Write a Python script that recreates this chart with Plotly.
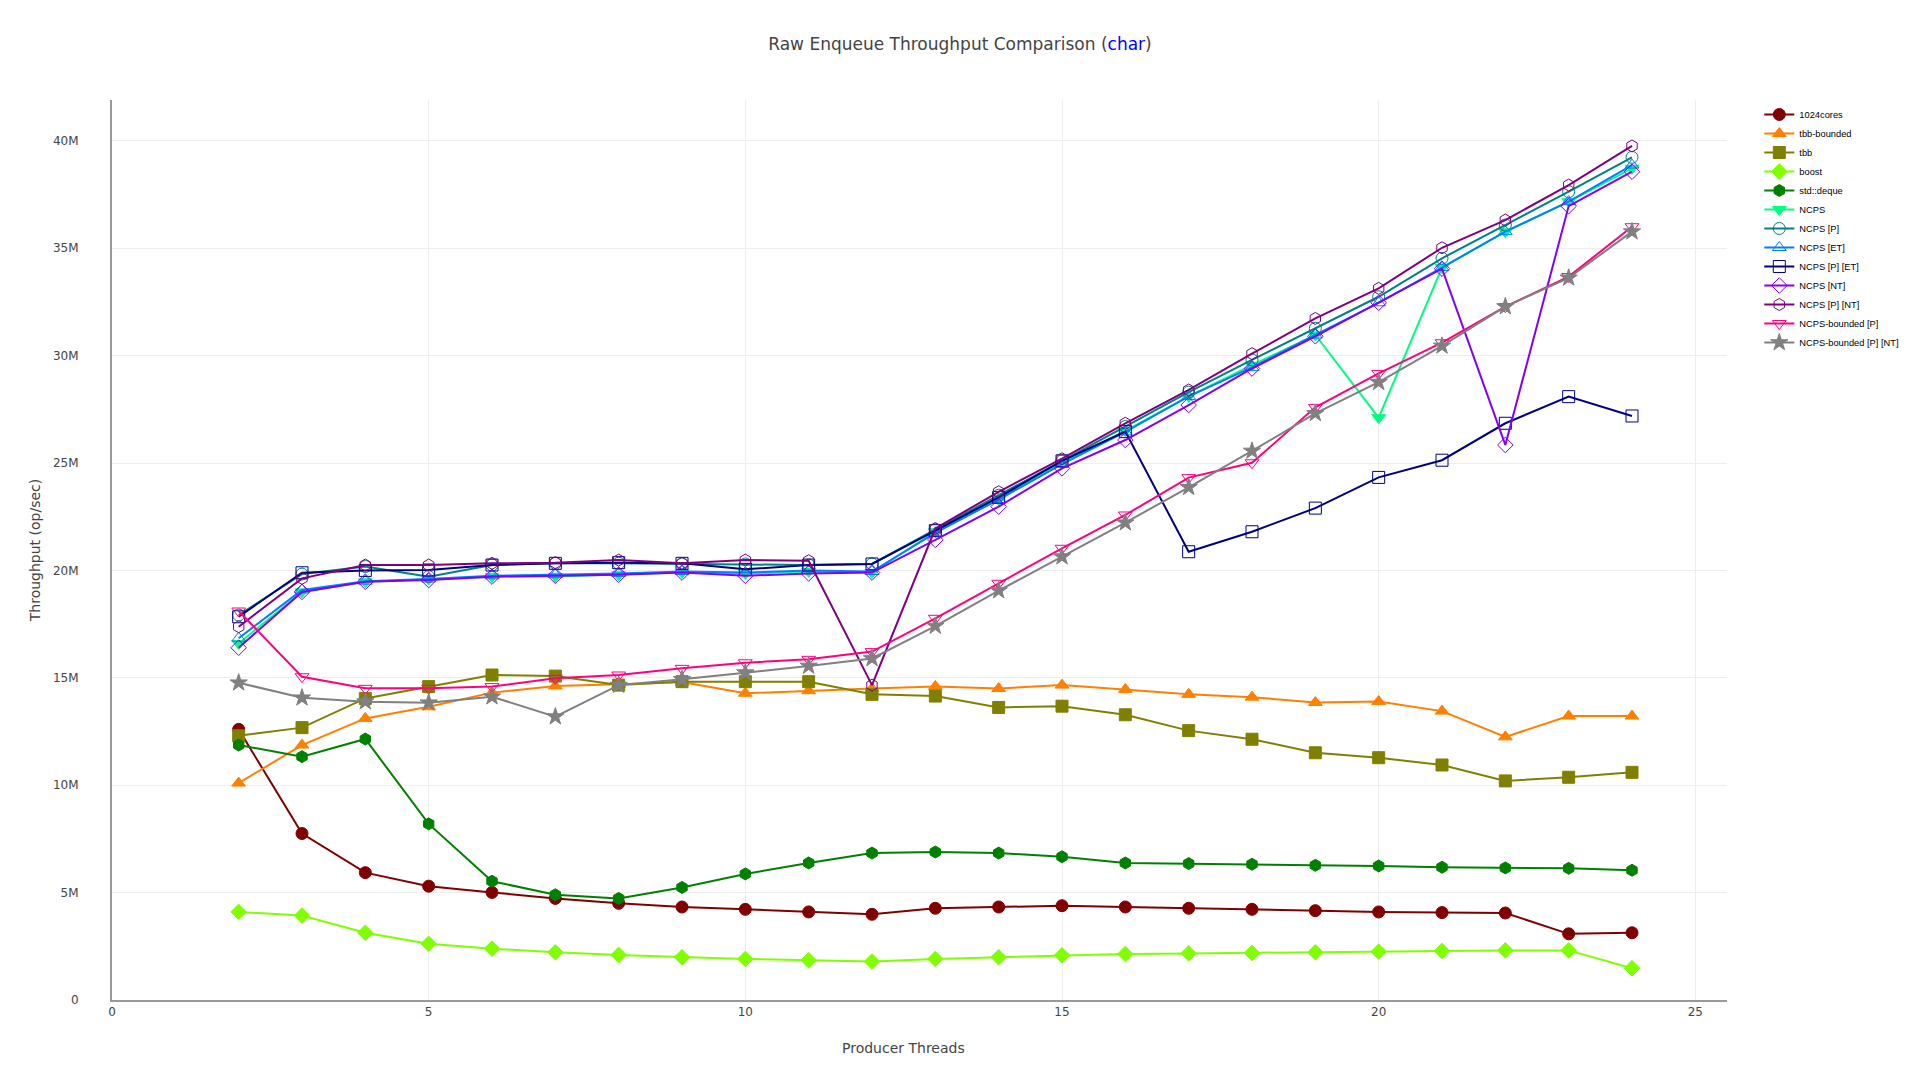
import plotly.graph_objects as go

threads = list(range(2, 25))

cores1024 = [12.6, 7.75, 5.93, 5.3, 5.01, 4.73, 4.5, 4.33, 4.22, 4.1, 3.99, 4.27, 4.33, 4.39, 4.33, 4.27, 4.22, 4.16, 4.1, 4.07, 4.05, 3.08, 3.13]
tbb_bounded = [10.1, 11.87, 13.11, 13.65, 14.31, 14.62, 14.7, 14.8, 14.28, 14.4, 14.5, 14.6, 14.5, 14.66, 14.46, 14.23, 14.1, 13.85, 13.9, 13.45, 12.25, 13.22, 13.22]
tbb = [12.3, 12.68, 14.04, 14.59, 15.13, 15.08, 14.66, 14.82, 14.82, 14.82, 14.23, 14.15, 13.62, 13.68, 13.28, 12.54, 12.14, 11.51, 11.28, 10.94, 10.2, 10.37, 10.6]
boost = [4.1, 3.93, 3.13, 2.62, 2.39, 2.22, 2.1, 1.99, 1.91, 1.85, 1.79, 1.91, 1.99, 2.08, 2.14, 2.17, 2.19, 2.22, 2.25, 2.28, 2.31, 2.31, 1.48]
std_deque = [11.87, 11.33, 12.15, 8.2, 5.53, 4.9, 4.73, 5.24, 5.87, 6.38, 6.84, 6.89, 6.84, 6.67, 6.38, 6.35, 6.32, 6.27, 6.24, 6.18, 6.15, 6.13, 6.04]
ncps = [16.6, 19.0, 19.47, 19.6, 19.71, 19.72, 19.8, 19.9, 19.86, 19.95, 19.9, 21.8, 23.3, 25.0, 26.5, 28.1, 29.55, 30.96, 27.11, 34.1, 35.77, 37.17, 38.72]
ncps_p = [17.92, 19.83, 20.18, 19.71, 20.25, 20.33, 20.33, 20.3, 20.3, 20.25, 20.3, 21.9, 23.5, 25.1, 26.7, 28.3, 29.8, 31.27, 32.74, 34.53, 36.08, 37.63, 39.23]
ncps_et = [16.84, 19.09, 19.5, 19.6, 19.75, 19.8, 19.86, 19.95, 19.9, 20.0, 19.95, 21.75, 23.3, 24.95, 26.45, 28.1, 29.45, 30.96, 32.46, 34.1, 35.77, 37.17, 38.87]
ncps_p_et = [17.84, 19.89, 20.0, 20.02, 20.25, 20.33, 20.36, 20.33, 20.05, 20.25, 20.3, 21.85, 23.4, 25.1, 26.46, 20.87, 21.8, 22.9, 24.33, 25.13, 26.85, 28.09, 27.19]
ncps_nt = [16.4, 19.0, 19.47, 19.55, 19.71, 19.75, 19.8, 19.9, 19.75, 19.86, 19.9, 21.42, 22.97, 24.75, 26.07, 27.7, 29.4, 30.9, 32.46, 34.05, 25.84, 36.96, 38.56]
ncps_p_nt = [17.38, 19.63, 20.25, 20.25, 20.33, 20.36, 20.48, 20.33, 20.48, 20.45, 14.66, 21.95, 23.66, 25.2, 26.85, 28.4, 30.09, 31.73, 33.13, 35.02, 36.31, 37.94, 39.76]
ncps_b_p = [18.11, 15.05, 14.51, 14.51, 14.59, 14.98, 15.13, 15.44, 15.7, 15.86, 16.22, 17.77, 19.4, 21.03, 22.58, 24.32, 25.01, 27.59, 29.17, 30.6, 32.28, 33.68, 36.0]
ncps_b_p_nt = [14.77, 14.07, 13.89, 13.84, 14.12, 13.19, 14.66, 14.93, 15.24, 15.55, 15.9, 17.41, 19.06, 20.64, 22.22, 23.87, 25.56, 27.31, 28.76, 30.45, 32.28, 33.62, 35.77]

series = [
    ("1024cores", cores1024, "#800000", "circle", 12),
    ("tbb-bounded", tbb_bounded, "#ff8000", "triangle-up", 12),
    ("tbb", tbb, "#808000", "square", 12),
    ("boost", boost, "#80ff00", "diamond", 12),
    ("std::deque", std_deque, "#008000", "hexagon", 12),
    ("NCPS", ncps, "#00ff80", "triangle-down", 12),
    ("NCPS [P]", ncps_p, "#008080", "circle-open", 12),
    ("NCPS [ET]", ncps_et, "#0080ff", "triangle-up-open", 12),
    ("NCPS [P] [ET]", ncps_p_et, "#000080", "square-open", 12),
    ("NCPS [NT]", ncps_nt, "#8000ff", "diamond-open", 12),
    ("NCPS [P] [NT]", ncps_p_nt, "#800080", "hexagon-open", 12),
    ("NCPS-bounded [P]", ncps_b_p, "#ff0080", "triangle-down-open", 12),
    ("NCPS-bounded [P] [NT]", ncps_b_p_nt, "#808080", "star", 13),
]

fig = go.Figure()
for name, vals, color, symbol, size in series:
    fig.add_trace(go.Scatter(
        x=threads, y=[v * 1e6 for v in vals], name=name, mode="lines+markers",
        line=dict(color=color, width=2),
        marker=dict(symbol=symbol, size=size, color=color, line=dict(color=color, width=1)),
    ))

H = 1064
fig.update_layout(
    width=1904, height=H,
    paper_bgcolor="white", plot_bgcolor="white",
    font=dict(family="Verdana, DejaVu Sans", size=12, color="#444"),
    title=dict(
        text='Raw Enqueue Throughput Comparison (<span style="color:#0000ff">char</span>)',
        x=0.5, xanchor="center", y=1 - 36 / H, yanchor="middle",
        font=dict(family="Verdana, DejaVu Sans", size=17, color="#444"),
    ),
    margin=dict(l=104, r=185, t=92, b=72, autoexpand=False),
    legend=dict(font=dict(family="Arial, Liberation Sans", size=9.3, color="#000"),
                x=1.02, y=1, xanchor="left", yanchor="top"),
    xaxis=dict(
        range=[0, 25.5], dtick=5, showgrid=True, gridcolor="#eee",
        showline=True, linecolor="#999", linewidth=2, zeroline=False, ticks="",
        tickfont=dict(size=12),
    ),
    yaxis=dict(
        title=dict(text="Throughput (op/sec)", font=dict(size=14), standoff=9),
        range=[0, 41.9e6], dtick=5e6, showgrid=True, gridcolor="#eee",
        showline=True, linecolor="#999", linewidth=2, zeroline=False, ticks="",
        tickfont=dict(size=12), ticklabelstandoff=29,
    ),
    annotations=[dict(
        text="Producer Threads", xref="paper", yref="paper",
        x=0.4902, y=-0.053, xanchor="center", yanchor="middle",
        showarrow=False, font=dict(family="Verdana, DejaVu Sans", size=14, color="#444"),
    )],
)

fig.write_html("out.html")
